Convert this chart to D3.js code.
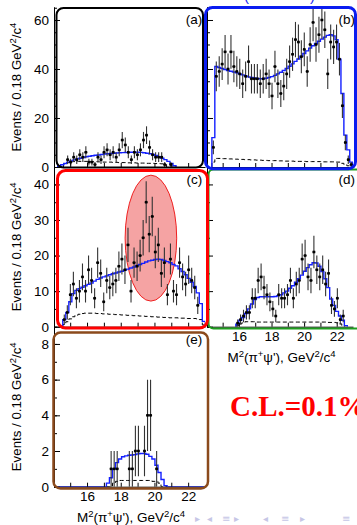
<!DOCTYPE html>
<html><head><meta charset="utf-8">
<script src="https://cdn.jsdelivr.net/npm/d3@7"></script>
<style>html,body{margin:0;padding:0;background:#fff;overflow:hidden}</style>
</head><body><svg id="c" width="357" height="525"></svg>
<script>
// ---------------- data ----------------
const binWidth = 0.18;                 // GeV^2/c^4 per bin
const xTickValues = [15,16,17,18,19,20,21,22];
const xTickLabels = [16,18,20,22];
const yTicksTop = [0,20,40,60];
const yTicksMid = [0,10,20,30,40];
const yTicksBot = [0,2,4,6,8];

// (a)
const countsStartA = 14.85;
const countsA = [3,2,4,3,5,4,6,2,2,1,4,3,6,7,5,6,4,7,11,9,6,3,6,5,7,11,13,8,5,4,4,4,1,0,1,0];
const fitStartA = 14.35;
const fitA = [0.4,0.9,1.4,2.0,2.5,2.9,3.3,3.6,3.9,4.2,4.4,4.6,4.8,4.9,5.1,5.3,5.4,5.5,5.6,5.7,5.8,5.85,5.9,5.95,6.0,6.0,6.0,5.95,5.8,5.6,5.4,5.1,4.7,4.2,3.6,3.0,2.3,1.5,0.5];
const bgStartA = 14.69;
const bgA = [1.2,1.8,2.1,2.2,2.3,2.3,2.3,2.3,2.2,2.2,2.2,2.1,2.1,2.0,2.0,2.0,1.9,1.9,1.8,1.8,1.8,1.7,1.7,1.7,1.6,1.6,1.6,1.5,1.5,1.5,1.4,1.4,1.3,1.0];

// (b)
const countsStartB = 14.43;
const countsB = [8,37,39,42,47,40,47,41,39,38,34,37,43,36,36,36,34,36,38,34,29,41,34,30,33,38,43,46,52,51,45,48,39,50,59,50,54,60,56,38,51,49,51,44,25,10,3,1];
const fitStartB = 14.43;
const fitB = [12,41,40.6,40.2,39.8,39.4,39.1,38.8,38.4,38.0,37.6,37.2,36.8,36.5,36.3,36.1,36.0,36.0,36.2,36.5,36.9,37.4,38.0,38.7,39.4,40.2,41.1,42.1,43.1,44.1,45.2,46.3,47.4,48.5,49.5,50.4,51.3,52.2,53.0,53.7,54.0,53.5,52.0,44,30,13,7,2];
const bgStartB = 14.43;
const bgB = [2,3.5,3.5,3.4,3.4,3.3,3.3,3.2,3.2,3.1,3.1,3.0,3.0,2.9,2.9,2.8,2.8,2.7,2.7,2.6,2.6,2.6,2.5,2.5,2.5,2.4,2.4,2.4,2.3,2.3,2.3,2.3,2.2,2.2,2.2,2.2,2.2,2.2,2.1,2.1,2.1,2.1,2.0,2.0,1.5,1.0,0.5,0.2];

// (c)
const countsStartC = 14.65;
const countsC = [2,4,9,12,8,10,14,10,16,13,8,18,15,7,13,11,12,13,17,19,16,23,10,18,17,20,25,35,26,31,21,23,15,18,9,19,10,9,18,14,12,16,13,11,6];
const fitStartC = 14.65;
const fitC = [2,4,7,9.3,10.2,10.7,11.1,11.5,11.9,12.3,12.8,13.3,13.7,14.0,14.3,14.6,14.9,15.1,15.4,15.6,15.9,16.2,16.5,16.8,17.2,17.5,17.8,18.2,18.5,18.7,18.9,19,18.9,18.6,18.3,18,17.5,17.1,16.3,15.5,14.6,13.6,12.5,11.3,9.5,6.5,1.5];
const bgStartC = 14.65;
const bgC = [0.6,1.4,2.2,2.8,3.2,3.5,3.7,3.8,3.8,3.8,3.8,3.7,3.7,3.6,3.6,3.5,3.5,3.4,3.4,3.3,3.3,3.2,3.2,3.1,3.1,3.0,3.0,2.9,2.9,2.8,2.8,2.7,2.7,2.6,2.6,2.5,2.5,2.5,2.4,2.4,2.4,2.3,2.3,2.3,2.2,2.0,0.5];
// highlighted region in (c): [centre x, centre y, half-width x, half-height y] in data units
const ellipseC = [19.79, 24.9, 1.53, 17.7];

// (d)
const countsStartD = 15.92;
const countsD = [1,2,3,4,4,8,8,13,14,11,9,7,5,3,9,8,8,9,13,8,12,13,19,20,14,13,21,16,14,16,12,15,6,5,8,2,3];
const fitStartD = 15.9;
const fitD = [0.7,1.8,2.6,3.7,5,6.4,7.6,8.2,8.4,8.4,8.4,8.4,8.4,8.5,8.7,9.0,9.5,10,10.8,11.5,12.5,13.5,14.5,15.6,16.6,17.4,18,17.9,17,15.5,13.5,11,7.8,6,4.3,3,1.8,0.3];
const bgStartD = 15.92;
const bgD = [0.3,0.8,1.2,1.4,1.4,1.4,1.4,1.3,1.3,1.3,1.3,1.3,1.3,1.3,1.3,1.3,1.3,1.3,1.3,1.3,1.3,1.3,1.3,1.3,1.3,1.3,1.3,1.3,1.3,1.3,1.3,1.2,1.2,1.2,1.1,0.8,0.3];

// (e)
const countsStartE = 17.43;
const countsE = [1,1,1,0,0,0,1,1,2,2,0,2,4,4,0,1];
const fitStartE = 17.24;
const fitE = [0.2,0.5,1.0,1.35,1.55,1.68,1.73,1.76,1.78,1.8,1.84,1.86,1.86,1.82,1.7,1.55,1.2,0.8,0.4,0.05];
const bgStartE = 17.24;
const bgE = [0,0,0.2,0.3,0.35,0.35,0.35,0.35,0.35,0.35,0.35,0.35,0.35,0.35,0.35,0.3,0.3,0.2,0,0];

const panelLabels = ["(a)","(b)","(c)","(d)","(e)"];
const yTitleParts = [["Events / 0.18 GeV",false],["2",true],["/c",false],["4",true]];
const xTitleParts = [["M",false],["2",true],["(π",false],["+",true],["ψ'), GeV",false],["2",true],["/c",false],["4",true]];
const clText = "C.L.=0.1%";

// ---------------- drawing ----------------
const FONT = "'Liberation Sans', Arial, Helvetica, sans-serif";
const svg = d3.select('#c');
svg.append('rect').attr('width',357).attr('height',525).attr('fill','#fff');

const xL = d3.scaleLinear().domain([14.04, 23.0]).range([54, 205]);
const xR = d3.scaleLinear().domain([14.04, 23.0]).range([207, 353]);
const yTop = d3.scaleLinear().domain([0, 65.3]).range([167, 7]);
const yMid = d3.scaleLinear().domain([0, 44.9]).range([326.7, 167]);
const yBot = d3.scaleLinear().domain([0, 8.95]).range([486.7, 327]);

const panels = [
  {x:xL,y:yTop,cs:countsStartA,c:countsA,fs:fitStartA,f:fitA,bs:bgStartA,b:bgA,yt:yTicksTop,ym:5,yl:true,xl:false,
   frame:{col:'#000',sw:2,d:[2.5,-2,1,0.5],r:7}},
  {x:xR,y:yTop,cs:countsStartB,c:countsB,fs:fitStartB,f:fitB,bs:bgStartB,b:bgB,yt:yTicksTop,ym:5,yl:false,xl:false,
   frame:{col:'#0a1cf0',sw:3,d:[-1.5,2.5,0.5,1.7],r:7}},
  {x:xL,y:yMid,cs:countsStartC,c:countsC,fs:fitStartC,f:fitC,bs:bgStartC,b:bgC,yt:yTicksMid,ym:5,yl:true,xl:false,
   frame:{col:'#f00',sw:3,d:[3.5,2.5,3.5,1.3],r:8},ellipse:ellipseC},
  {x:xR,y:yMid,cs:countsStartD,c:countsD,fs:fitStartD,f:fitD,bs:bgStartD,b:bgD,yt:yTicksMid,ym:5,yl:false,xl:true,
   frame:{col:'#1e9e1e',sw:2,d:[1.5,8,2.5,1.8],r:5}},
  {x:xL,y:yBot,cs:countsStartE,c:countsE,fs:fitStartE,f:fitE,bs:bgStartE,b:bgE,yt:yTicksBot,ym:1,yl:true,xl:true,
   frame:{col:'#8b4a1c',sw:2.5,d:[-0.5,3,5.5,1.8],r:7},zeroLine:true}
];

function stepPoints(start, vals, extend, domain) {
  const pts = [];
  const left0 = start - binWidth/2;
  if (extend) pts.push([domain[0], 0]);
  pts.push([left0, 0]);
  vals.forEach((v,i) => { const l = left0 + i*binWidth; pts.push([l, v]); pts.push([l+binWidth, v]); });
  pts.push([left0 + vals.length*binWidth, 0]);
  if (extend) pts.push([domain[1], 0]);
  return pts;
}

function rich(textSel, parts, supSize) {
  let up = false;
  parts.forEach(([t, sup]) => {
    const ts = textSel.append('tspan').text(t);
    if (sup) { ts.attr('font-size', supSize).attr('dy', up ? 0 : -5); up = true; }
    else { if (up) ts.attr('dy', 5); up = false; }
  });
}

const defs = svg.append('defs');
const contentLayer = svg.append('g');
const frameLayer = svg.append('g');

panels.forEach((p, i) => {
  const [x0, x1] = p.x.range();
  const [yb, yt] = p.y.range();
  const g = contentLayer.append('g');
  const cid = 'clip' + i;
  defs.append('clipPath').attr('id', cid).append('rect')
    .attr('x', x0).attr('y', yt).attr('width', x1 - x0).attr('height', yb - yt);
  const pg = g.append('g').attr('clip-path', `url(#${cid})`);

  if (p.ellipse) {
    const [cx, cy, rx, ry] = p.ellipse;
    pg.append('ellipse')
      .attr('cx', p.x(cx)).attr('cy', p.y(cy))
      .attr('rx', p.x(cx + rx) - p.x(cx)).attr('ry', p.y(cy) - p.y(cy + ry))
      .attr('fill', '#f5a3a3').attr('stroke', '#ee2020').attr('stroke-width', 1);
  }

  const line = d3.line().x(d => p.x(d[0])).y(d => p.y(d[1]));
  // background (dashed)
  pg.append('path').attr('d', line(stepPoints(p.bs, p.b, false)))
    .attr('fill', 'none').attr('stroke', '#000').attr('stroke-width', 1)
    .attr('stroke-dasharray', '4,2.5');
  // fit (blue)
  pg.append('path').attr('d', line(stepPoints(p.fs, p.f, !!p.zeroLine, p.x.domain())))
    .attr('fill', 'none').attr('stroke', '#1420ff').attr('stroke-width', 1.4);

  // data points with sqrt(N) errors
  const pts = p.c.map((n, k) => ({x: p.cs + k*binWidth, n})).filter(d => d.n > 0);
  const dg = pg.append('g');
  dg.selectAll('line.ey').data(pts).join('line')
    .attr('x1', d => p.x(d.x)).attr('x2', d => p.x(d.x))
    .attr('y1', d => p.y(d.n - Math.sqrt(d.n))).attr('y2', d => p.y(d.n + Math.sqrt(d.n)))
    .attr('stroke', '#333').attr('stroke-width', 1.1);
  dg.selectAll('line.ex').data(pts).join('line')
    .attr('x1', d => p.x(d.x - binWidth/2)).attr('x2', d => p.x(d.x + binWidth/2))
    .attr('y1', d => p.y(d.n)).attr('y2', d => p.y(d.n))
    .attr('stroke', '#111').attr('stroke-width', 1);
  dg.selectAll('rect').data(pts).join('rect')
    .attr('x', d => p.x(d.x) - 1.3).attr('y', d => p.y(d.n) - 1.3)
    .attr('width', 2.6).attr('height', 2.6).attr('fill', '#000');

  // axes
  const ymax = p.y.domain()[1];
  const minor = d3.range(0, ymax, p.ym);
  const ax = g.append('g').attr('transform', `translate(${x0},0)`);
  ax.call(d3.axisLeft(p.y).tickValues(minor).tickSize(-3).tickSizeOuter(0).tickFormat(''));
  const ax2 = g.append('g').attr('transform', `translate(${x0},0)`);
  ax2.call(d3.axisLeft(p.y).tickValues(p.yt).tickSize(-6).tickSizeOuter(0).tickPadding(5)
    .tickFormat(p.yl ? d3.format('d') : () => ''));
  const bx = g.append('g').attr('transform', `translate(0,${yb})`);
  bx.call(d3.axisBottom(p.x).tickValues(xTickValues).tickSize(-4).tickSizeOuter(0).tickPadding(5)
    .tickFormat(d => (p.xl && xTickLabels.includes(d)) ? d : ''));
  g.selectAll('.domain').attr('stroke', '#000').attr('stroke-width', 1);
  g.selectAll('.tick line').attr('stroke', '#000').attr('stroke-width', 1);
  g.selectAll('.tick text').attr('font-family', FONT).attr('font-size', 13.5).attr('fill', '#000');

  // panel label
  g.append('text').attr('x', p.x === xL ? x1 - 2.8 : x1 + 2).attr('y', yt + 17)
    .attr('text-anchor', 'end').attr('font-family', FONT).attr('font-size', 13.5).text(panelLabels[i]);

  // y title
  if (p.yl) {
    const t = g.append('text').attr('transform', `translate(21,${(yt + yb) / 2}) rotate(-90)`)
      .attr('text-anchor', 'middle').attr('font-family', FONT).attr('font-size', 13.3).attr('fill', '#000');
    rich(t, yTitleParts, 9.5);
  }
  // x title
  if (p.xl) {
    const t = g.append('text').attr('x', (x0 + x1) / 2 + 1.5).attr('y', yb + 35)
      .attr('text-anchor', 'middle').attr('font-family', FONT).attr('font-size', 13.5).attr('fill', '#000');
    rich(t, xTitleParts, 9.5);
  }
  p.frameRect = [x0 + p.frame.d[0], yt + p.frame.d[2], x1 + p.frame.d[1], yb + p.frame.d[3]];
});

// coloured rounded frames (d under b and c)
[0, 3, 1, 2, 4].forEach(i => {
  const p = panels[i], [a, b, c, d] = p.frameRect;
  frameLayer.append('rect').attr('x', a).attr('y', b).attr('width', c - a).attr('height', d - b)
    .attr('rx', p.frame.r).attr('ry', p.frame.r)
    .attr('fill', 'none').attr('stroke', p.frame.col).attr('stroke-width', p.frame.sw);
});

// C.L. annotation
svg.append('text').attr('x', 230).attr('y', 416)
  .attr('font-family', "'Liberation Serif', 'Times New Roman', serif").attr('font-weight', 'bold')
  .attr('font-size', 29).attr('fill', '#ff0000').text(clText);

// cut-off blue heading at top
svg.append('text').attr('x', 244).attr('y', 0.5).attr('font-family', FONT).attr('font-size', 15).attr('fill', '#1a2cf0').text('(');
svg.append('text').attr('x', 310).attr('y', 0.5).attr('font-family', FONT).attr('font-size', 15).attr('fill', '#1a2cf0').text(')');

// beamer navigation symbols
const nav = [[195,'▸'],[207,'◂'],[222,'≡'],[234,'▸'],[263,'◂'],[281,'≡'],[300,'▸'],[342,'≡']];
svg.append('g').selectAll('text').data(nav).join('text')
  .attr('x', d => d[0]).attr('y', 522).attr('font-family', "'DejaVu Sans', sans-serif")
  .attr('font-size', 10).attr('fill', '#c6c6e6').text(d => d[1]);
</script>
</body></html>
